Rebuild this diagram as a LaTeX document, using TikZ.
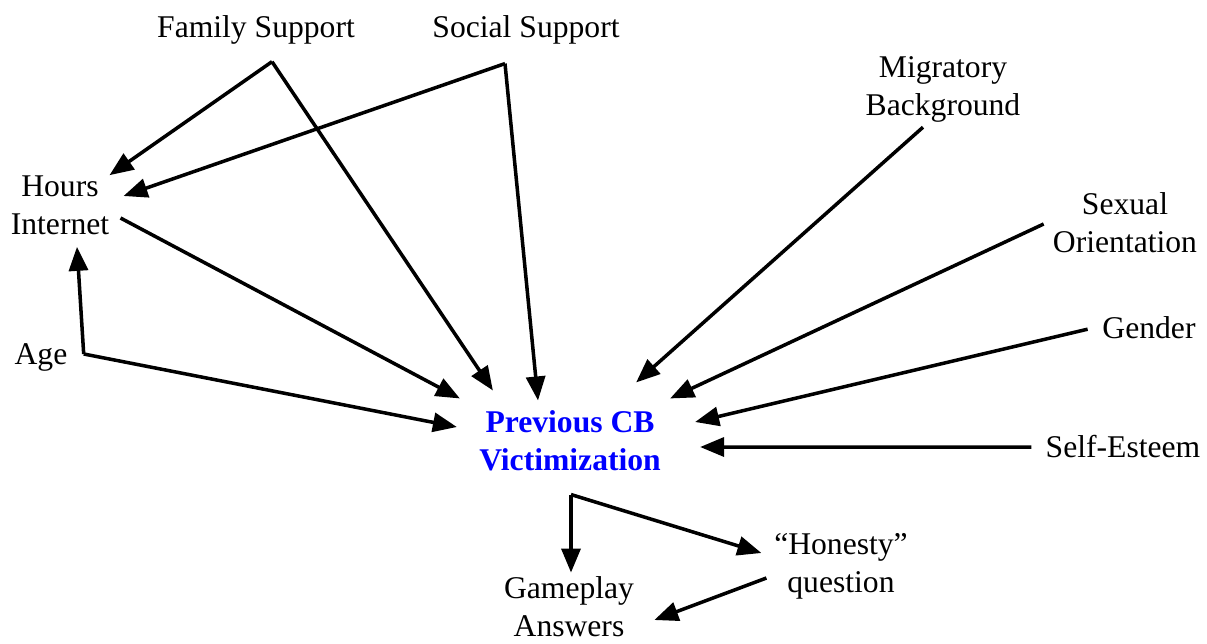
\documentclass[tikz,border=0pt]{standalone}
\usepackage{fontspec}
\setmainfont{Liberation Serif}
\usetikzlibrary{arrows.meta}
\begin{document}
\begin{tikzpicture}[x=0.02cm, y=-0.02cm,
  lbl/.style={inner sep=0pt, font=\fontsize{18}{21.6}\selectfont},
  lbltwo/.style={lbl, align=center},
  arr/.style={-{Triangle[length=4.8mm, width=3.8mm]}, line width=2pt}]
\useasboundingbox (0,0) rectangle (1207,643);
% the factors
\node[lbl, anchor=base] (fam) at (256,37.5) {Family Support};
\node[lbl, anchor=base] (soc) at (526,37.5) {Social Support};
\node[lbltwo] (hrs) at (60,205) {Hours\\Internet};
\node[lbl, anchor=base] (age) at (41,364) {Age};
\node[lbltwo] (mig) at (943,89) {Migratory\\Background};
\node[lbltwo] (sex) at (1125,223) {Sexual\\Orientation};
\node[lbl, anchor=base] (gen) at (1149,338) {Gender};
\node[lbl, anchor=base] (self) at (1123,457) {Self-Esteem};
% outcome
\node[lbltwo, text=blue, font=\fontsize{18}{21.6}\selectfont\bfseries] (prev) at (570,441) {Previous CB\\Victimization};
\node[lbltwo] (hon) at (841,566) {``Honesty''\\question};
\node[lbltwo] (game) at (569,607) {Gameplay\\Answers};
% arrows into hours internet
\draw[arr] ([shift={(16,17)}]fam.south) -- (hrs.north east);
\draw[arr] ([shift={(-21,19)}]soc.south) -- ([shift={(14,-9)}]hrs.east);
\draw[arr] ([shift={(16,-3)}]age.east) -- ([shift={(17,12)}]hrs.south);
% arrows into previous CB
\draw[arr] ([shift={(16,17)}]fam.south) -- ([shift={(14,-20)}]prev.north west);
\draw[arr] ([shift={(-21,19)}]soc.south) -- ([shift={(-32,-10)}]prev.north);
\draw[arr] ([shift={(11,13)}]hrs.east) -- ([shift={(-19,-12)}]prev.north west);
\draw[arr] ([shift={(16,-3)}]age.east) -- ([shift={(-22,-14)}]prev.west);
\draw[arr] ([shift={(-20,5)}]mig.south) -- ([shift={(-25,-28)}]prev.north east);
\draw[arr] ([shift={(-9,1)}]sex.west) -- ([shift={(9,-12)}]prev.north east);
\draw[arr] ([shift={(-14.5,2)}]gen.west) -- ([shift={(34,-19)}]prev.east);
\draw[arr] ([shift={(-14,1)}]self.west) -- ([shift={(39,6)}]prev.east);
% arrows out of previous CB
\draw[arr] ([shift={(1,23)}]prev.south) -- ([shift={(2,-4)}]game.north);
\draw[arr] ([shift={(1,23)}]prev.south) -- ([shift={(-12.5,-13)}]hon.west);
\draw[arr] ([shift={(-7.5,12)}]hon.west) -- ([shift={(20,13)}]game.east);
\end{tikzpicture}
\end{document}
